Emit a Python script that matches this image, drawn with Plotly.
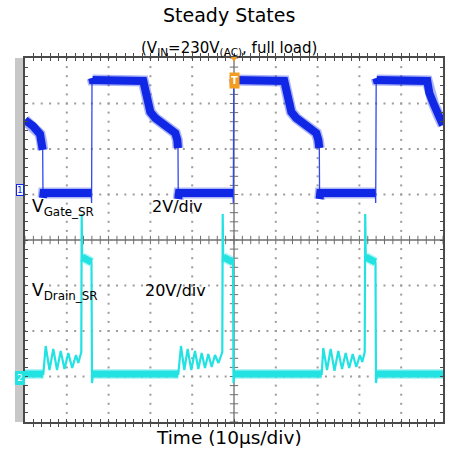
import numpy as np
import plotly.graph_objects as go

# ---- scope settings ----
T_DIV = 10.0          # µs per division (10 divisions, trigger at centre)
GATE_VDIV = 2.0       # V/div, channel 1
DRAIN_VDIV = 20.0     # V/div, channel 2

# ---- channel 1: V_Gate_SR (µs, V) ----
gate_t = [-50.00, -48.09, -46.41, -46.00, -45.77, -45.69, -45.55, -34.14, -34.07, -33.97, -33.83,
          -21.70, -21.22, -20.74, -20.02, -18.83, -17.15, -15.48, -14.04, -13.56, -13.40, -13.33, -13.16,
          -0.24, -0.17, -0.05, 0.09,
          12.03, 12.51, 12.99, 13.71, 14.90, 16.58, 18.25, 19.69, 20.17, 20.41, 20.48, 20.64,
          33.83, 33.90, 34.02, 34.16,
          46.24, 46.72, 47.68, 48.88, 50.00]
gate_v = [3.27, 3.01, 2.66, 2.31, 1.96, -0.15, 0.07, 0.07, -0.37, 5.12, 5.03,
          4.99, 4.55, 4.02, 3.63, 3.36, 3.14, 2.92, 2.70, 2.40, 2.04, -0.20, 0.07,
          0.07, -0.37, 5.12, 5.03,
          4.99, 4.55, 4.02, 3.63, 3.36, 3.14, 2.92, 2.70, 2.40, 2.04, -0.20, 0.07,
          0.07, -0.37, 5.12, 5.03,
          4.99, 4.46, 4.02, 3.49, 3.05]

# ---- channel 2: V_Drain_SR (µs, V) ----
drain_t = [-50.00, -45.62, -45.05, -44.14, -43.23, -42.34, -41.46, -40.55, -39.64, -38.71, -37.80,
           -37.25, -36.53, -36.44, -36.32, -34.09, -33.97, -33.73,
           -13.33, -12.68, -11.89, -11.08, -10.22, -9.33, -8.54, -7.73, -6.94, -6.15, -5.34, -4.55,
           -3.71, -2.80, -2.70, -2.58, -0.24, -0.12, 0.12,
           20.98, 21.36, 22.25, 23.13, 24.04, 24.95, 25.84, 26.72, 27.56, 28.40, 29.26, 30.14,
           30.69, 31.27, 31.39, 31.53, 33.85, 33.97, 34.21, 50.00]
drain_v = [1.10, 1.10, 13.41, 2.86, 12.09, 2.86, 11.21, 3.30, 10.33, 3.74, 9.45,
           5.93, 10.77, 71.4, 52.5, 50.3, -2.86, 1.10,
           1.10, 13.41, 2.86, 12.09, 2.86, 11.21, 3.30, 10.33, 3.74, 9.89, 4.18, 9.45,
           5.93, 10.77, 71.4, 52.5, 50.3, -2.86, 1.10,
           1.10, 12.53, 2.86, 12.09, 2.55, 11.21, 3.30, 10.33, 3.74, 9.89, 4.18, 9.45,
           6.37, 10.77, 71.4, 52.5, 50.3, -2.86, 1.10, 1.10]

GATE_RANGE = [-5 * GATE_VDIV, 3 * GATE_VDIV]      # ground 3 div below top
DRAIN_RANGE = [-1 * DRAIN_VDIV, 7 * DRAIN_VDIV]   # ground 1 div above bottom

BLUE = "#1028e6"
CYAN = "#22e2e2"
GRID = "#9c9c9c"
FRAME = "#4a4a4a"
CENTER = "#6e6e6e"

W, H = 467, 452
PL, PT, PR, PB = 25, 58, 443, 422          # plot area in pixels
L, T, R, B = PL, PT, W - PR, H - PB
PW, PH = PR - PL, PB - PT


def px(x, y):
    """pixel position -> paper coordinates"""
    return (x - PL) / PW, 1 - (y - PT) / PH


def band_xy(t, v, vdiv, max_slope):
    """segments of the trace that are flat enough to show the noise band"""
    xs, ys = [], []
    prev_ok = False
    for i in range(len(t) - 1):
        dt = (t[i + 1] - t[i]) / T_DIV
        dv = (v[i + 1] - v[i]) / vdiv
        ok = dt > 0 and abs(dv / dt) <= max_slope
        if ok:
            if not prev_ok:
                if xs:
                    xs.append(None)
                    ys.append(None)
                xs.append(t[i])
                ys.append(v[i])
            xs.append(t[i + 1])
            ys.append(v[i + 1])
        prev_ok = ok
    return xs, ys


fig = go.Figure()

# graticule dots
minor_t = np.arange(-50, 50.001, T_DIV / 5)
minor_g = np.arange(GATE_RANGE[0], GATE_RANGE[1] + 0.001, GATE_VDIV / 5)
gx, gy = [], []
for k in range(1, 10):
    tv = -50 + k * T_DIV
    if abs(tv) < 1e-9:
        continue
    gx += [tv] * len(minor_g)
    gy += list(minor_g)
for k in range(1, 8):
    yv = GATE_RANGE[0] + k * GATE_VDIV
    if k == 4:
        continue
    gx += list(minor_t)
    gy += [yv] * len(minor_t)
fig.add_trace(go.Scatter(x=gx, y=gy, mode="markers", hoverinfo="skip",
                         marker=dict(symbol="square", size=2, color=GRID, line=dict(width=0))))

# centre cross ticks
ymid = GATE_RANGE[0] + 4 * GATE_VDIV
fig.add_trace(go.Scatter(x=minor_t, y=[ymid] * len(minor_t), mode="markers", hoverinfo="skip",
                         marker=dict(symbol="line-ns", size=6, line=dict(width=1, color=CENTER))))
fig.add_trace(go.Scatter(x=[0] * len(minor_g), y=minor_g, mode="markers", hoverinfo="skip",
                         marker=dict(symbol="line-ew", size=6, line=dict(width=1, color=CENTER))))

# drain channel
bx, by = band_xy(drain_t, drain_v, DRAIN_VDIV, 1.4)
fig.add_trace(go.Scatter(x=drain_t, y=drain_v, yaxis="y2", mode="lines", hoverinfo="skip",
                         line=dict(color=CYAN, width=2.2)))
fig.add_trace(go.Scatter(x=bx, y=by, yaxis="y2", mode="lines", hoverinfo="skip",
                         line=dict(color="rgba(34,226,226,0.35)", width=10)))
fig.add_trace(go.Scatter(x=bx, y=by, yaxis="y2", mode="lines", hoverinfo="skip",
                         line=dict(color=CYAN, width=7)))

# gate channel
bx, by = band_xy(gate_t, gate_v, GATE_VDIV, 18.0)
fig.add_trace(go.Scatter(x=gate_t, y=gate_v, mode="lines", hoverinfo="skip",
                         line=dict(color="#3048f0", width=1.3)))
fig.add_trace(go.Scatter(x=bx, y=by, mode="lines", hoverinfo="skip",
                         line=dict(color="rgba(16,40,230,0.35)", width=11)))
fig.add_trace(go.Scatter(x=bx, y=by, mode="lines", hoverinfo="skip",
                         line=dict(color=BLUE, width=8)))

axis_common = dict(showgrid=False, zeroline=False, showticklabels=False,
                   ticks="inside", ticklen=3, tickwidth=1, tickcolor=FRAME,
                   showline=True, linecolor=FRAME, linewidth=1.5, mirror="allticks")

fig.update_layout(
    width=W, height=H,
    margin=dict(l=L, r=R, t=T, b=B, pad=0),
    paper_bgcolor="white", plot_bgcolor="white",
    showlegend=False,
    font=dict(family="DejaVu Sans", color="black"),
    xaxis=dict(range=[-50, 50], dtick=T_DIV / 5, tick0=-50, **axis_common),
    yaxis=dict(range=GATE_RANGE, dtick=GATE_VDIV / 5, tick0=GATE_RANGE[0], **axis_common),
    yaxis2=dict(range=DRAIN_RANGE, overlaying="y", showgrid=False, zeroline=False,
                showticklabels=False, showline=False, ticks=""),
)

shapes = [
    # grey side strip
    dict(type="rect", xref="paper", yref="paper", x0=-10 / PW, x1=0, y0=0, y1=1,
         fillcolor="#c8c8c8", line=dict(width=0), layer="below"),
    # centre lines
    dict(type="line", xref="x", yref="y", x0=-50, x1=50, y0=ymid, y1=ymid,
         line=dict(color=CENTER, width=1.3), layer="below"),
    dict(type="line", xref="x", yref="y", x0=0, x1=0, y0=GATE_RANGE[0], y1=GATE_RANGE[1],
         line=dict(color=CENTER, width=1.3), layer="below"),
    # trigger triangle
    dict(type="path", xref="x", yref="paper",
         path=f"M -0.75 {px(0, 57)[1]} L 0.75 {px(0, 57)[1]} L 0 {px(0, 62)[1]} Z",
         fillcolor="#f39c1e", line=dict(width=0)),
]
fig.update_layout(shapes=shapes)

ann = []


def add_text(text, x, y, size, xanchor="center", color="black", **kw):
    xp, yp = px(x, y)
    ann.append(dict(text=text, x=xp, y=yp, xref="paper", yref="paper", showarrow=False,
                    xanchor=xanchor, yanchor="middle", font=dict(size=size, color=color,
                                                                 family="DejaVu Sans"), **kw))


add_text("Steady States", 229, 15, 19)
add_text("(V<sub>IN</sub>=230V<sub>(AC)</sub>, full load)", 228.5, 48, 15)
add_text("Time (10µs/div)", 228.5, 437, 18.5)
add_text("V<sub>Gate_SR</sub>", 30, 207.5, 17, xanchor="left")
add_text("2V/div", 150, 206.5, 16, xanchor="left")
add_text("V<sub>Drain_SR</sub>", 30, 291, 17, xanchor="left")
add_text("20V/div", 143, 290.5, 16, xanchor="left")
# channel markers
add_text("1", 19.5, 190, 9, color=BLUE, bordercolor=BLUE, borderwidth=1, borderpad=0, bgcolor="#fbfbf0")
add_text("2", 19.5, 378, 9, color="white", bordercolor=CYAN, borderwidth=1, borderpad=1, bgcolor=CYAN)
# trigger marker
ann.append(dict(text="<b>T</b>", x=0, xref="x", y=px(0, 72.5)[1], yref="paper", showarrow=False,
                font=dict(size=10, color="white", family="DejaVu Sans"), bgcolor="#f39c1e",
                borderpad=1, width=7, height=13))
fig.update_layout(annotations=ann)

# no mode bar; drop the browser's default body margin so the figure fills the window exactly
fig.write_html("out.html", config={"displayModeBar": False},
               post_script="document.body.style.margin='0';")
